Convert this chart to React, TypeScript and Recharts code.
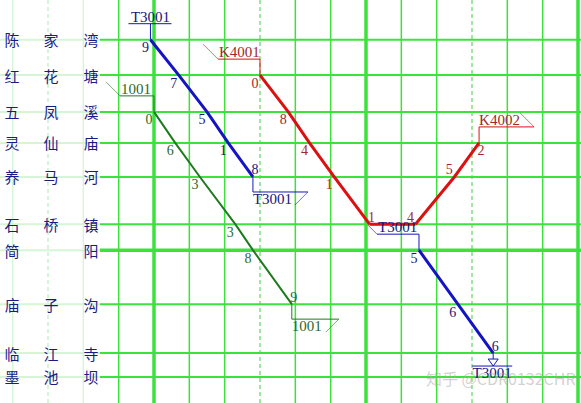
import { LineChart, Line, XAxis, YAxis, ReferenceLine, LabelList } from 'recharts';

// stations, top to bottom, with their mileage (km) on the diagram
const stations = ['陈家湾', '红花塘', '五凤溪', '灵仙庙', '养马河', '石桥镇', '简阳', '庙子沟', '临江寺', '墨池坝'];
const stationKm = [0, 10.5, 21.4, 30.6, 40.7, 54.7, 62.4, 78.4, 92.9, 100];

// 10-minute grid, minutes relative to the first hour line
const gridMinutes = [-40, -30, -20, -10, 0, 10, 20, 30, 40, 50, 60, 70, 80, 90, 100, 110, 120];

// train runs: station index + time (minutes)
const t3001aStops = [0, 1, 2, 3, 4];
const t3001aTimes = [-1, 7, 15, 21, 28];
const t3001bStops = [6, 7, 8];
const t3001bTimes = [75, 86, 96];
const t1001Stops = [2, 3, 4, 5, 6, 7];
const t1001Times = [0, 6, 13, 23, 28, 39];
const k4001Stops = [1, 2, 3, 4, 5];
const k4001Times = [30, 38, 44, 51, 61];
const k4002Stops = [5, 4, 3];
const k4002Times = [74, 85, 92];

const W = 581;
const H = 403;
const X_DOMAIN: [number, number] = [-43.585, 120.85];
const Y_DOMAIN: [number, number] = [-11.77, 107.71];
const LABEL_EDGE = -15.28; // where the station name column ends

const BLUE = '#1414c4';
const RED = '#dc1010';
const GREEN = '#1f7a1f';
const GRID = '#3ce23c';
const GRID_LIGHT = '#d6f5d6';
const NAME = '#1b1b88';
const SERIF = '"Liberation Serif", "DejaVu Serif", serif';

type MarkKind = 'origin' | 'enter' | 'exitDown' | 'exitUp' | 'terminate' | null;

interface Train {
  id: string;
  name: string;
  stops: number[];
  times: number[];
  dir: 'down' | 'up';
  color: string;
  digit: string;
  width: number;
  start: MarkKind;
  end: MarkKind;
  tail?: number;
}

const trains: Train[] = [
  { id: 'T3001a', name: 'T3001', stops: t3001aStops, times: t3001aTimes, dir: 'down', color: BLUE, digit: '#16167a', width: 3, start: 'origin', end: 'exitDown' },
  { id: 'T3001b', name: 'T3001', stops: t3001bStops, times: t3001bTimes, dir: 'down', color: BLUE, digit: '#16167a', width: 3, start: 'enter', end: 'terminate', tail: 9 },
  { id: '1001', name: '1001', stops: t1001Stops, times: t1001Times, dir: 'down', color: GREEN, digit: '#2a6a2a', width: 2, start: 'enter', end: 'exitDown', tail: 14 },
  { id: 'K4001', name: 'K4001', stops: k4001Stops, times: k4001Times, dir: 'down', color: RED, digit: '#a02828', width: 3, start: 'enter', end: null, tail: 15 },
  { id: 'K4002', name: 'K4002', stops: k4002Stops, times: k4002Times, dir: 'up', color: RED, digit: '#a02828', width: 3, start: null, end: 'exitUp' },
];

const rowsOf = (tr: Train) => tr.times.map((t, i) => ({ t, km: stationKm[tr.stops[i]] }));

// K4001 waits at 石桥镇 and leaves as K4002
const dwellRows = [
  { t: k4001Times[k4001Times.length - 1], km: stationKm[k4001Stops[k4001Stops.length - 1]] },
  { t: k4002Times[0], km: stationKm[k4002Stops[0]] },
];

function drawMark(tr: Train, kind: MarkKind, x: number, y: number) {
  if (!kind) return null;
  const c = tr.color;
  const txt = { fontFamily: SERIF, fontSize: 15, fill: tr.digit };
  const w = tr.name.length * 8 + 2;
  if (kind === 'origin') {
    const by = y - 16;
    return (
      <g>
        <line x1={x} y1={y} x2={x} y2={by} stroke={c} strokeWidth={1} />
        <line x1={x - 22} y1={by} x2={x + 21} y2={by} stroke={c} strokeWidth={1} />
        <text x={x} y={by - 2} textAnchor="middle" {...txt}>{tr.name}</text>
      </g>
    );
  }
  if (kind === 'enter') {
    const by = y - 16;
    const d = tr.tail ?? 14;
    return (
      <g>
        <line x1={x} y1={y} x2={x} y2={by} stroke={c} strokeWidth={1} />
        <line x1={x - w} y1={by} x2={x} y2={by} stroke={c} strokeWidth={1} />
        <line x1={x - w} y1={by} x2={x - w - d} y2={by - d} stroke={c} strokeOpacity={0.6} strokeWidth={1} />
        <text x={x - w + 1} y={by - 2} {...txt}>{tr.name}</text>
      </g>
    );
  }
  if (kind === 'exitDown') {
    const by = y + 15;
    const bw = w + 13;
    return (
      <g>
        <line x1={x} y1={y} x2={x} y2={by} stroke={c} strokeWidth={1} />
        <line x1={x} y1={by} x2={x + bw} y2={by} stroke={c} strokeWidth={1} />
        <line x1={x + bw} y1={by} x2={x + bw - 13} y2={by + 13} stroke={c} strokeOpacity={0.6} strokeWidth={1} />
        <text x={x} y={by + 12} {...txt}>{tr.name}</text>
      </g>
    );
  }
  if (kind === 'exitUp') {
    const by = y - 16;
    return (
      <g>
        <line x1={x} y1={y} x2={x} y2={by} stroke={c} strokeWidth={1} />
        <line x1={x} y1={by} x2={x + 55} y2={by} stroke={c} strokeWidth={1} />
        <line x1={x + 55} y1={by} x2={x + 41} y2={by - 14} stroke={c} strokeOpacity={0.6} strokeWidth={1} />
        <text x={x} y={by - 2} {...txt}>{tr.name}</text>
      </g>
    );
  }
  // terminate
  return (
    <g>
      <line x1={x} y1={y} x2={x} y2={y + 6} stroke={c} strokeWidth={1} />
      <polygon points={`${x - 5},${y + 6} ${x + 5},${y + 6} ${x},${y + 13}`} fill="#fff" stroke={c} strokeWidth={1} />
      <line x1={x - 21} y1={y + 13} x2={x + 19} y2={y + 13} stroke={c} strokeWidth={1} />
      <text x={x - 1} y={y + 25} textAnchor="middle" {...txt}>{tr.name}</text>
    </g>
  );
}

function StationName({ viewBox, name }: any) {
  const y = viewBox?.y ?? 0;
  const chars = name.split('');
  const cols = chars.length === 3 ? [12, 51, 91] : [12, 91];
  return (
    <g>
      {chars.map((ch: string, i: number) => (
        <text key={i} x={cols[i]} y={y} textAnchor="middle" dominantBaseline="central"
          fontFamily='"Noto Sans CJK SC", sans-serif' fontSize={15} fill={NAME}>
          {ch}
        </text>
      ))}
    </g>
  );
}

function digitLabel(tr: Train) {
  return (props: any) => {
    const { x, y, index } = props;
    if (x == null || y == null) return null;
    const last = index === tr.times.length - 1;
    const minute = ((tr.times[index] % 10) + 10) % 10;
    let dx = -5;
    let dy = 8;
    if (tr.dir === 'down' && last) { dx = 2; dy = -7; }
    if (tr.dir === 'up') { dy = last ? 8 : -7; dx = last ? 2 : -5; }
    return (
      <text x={x + dx} y={y + dy} textAnchor="middle" dominantBaseline="central"
        fontFamily={SERIF} fontSize={14} fill={tr.digit}>
        {minute}
      </text>
    );
  };
}

function markDot(tr: Train) {
  return (props: any) => {
    const { cx, cy, index } = props;
    const key = `${tr.id}-m${index}`;
    if (cx == null || cy == null) return <g key={key} />;
    if (index === 0) return <g key={key}>{drawMark(tr, tr.start, cx, cy)}</g>;
    if (index === tr.times.length - 1) return <g key={key}>{drawMark(tr, tr.end, cx, cy)}</g>;
    return <g key={key} />;
  };
}

export default function App() {
  return (
    <div style={{ position: 'absolute', left: 0, top: 0, width: W, height: H, background: '#fff', overflow: 'hidden' }}>
      <LineChart width={W} height={H} margin={{ top: 0, right: 0, bottom: 0, left: 0 }}>
        <XAxis type="number" dataKey="t" domain={X_DOMAIN} allowDataOverflow hide />
        <YAxis type="number" dataKey="km" domain={Y_DOMAIN} reversed allowDataOverflow hide />

        {gridMinutes.map((m) => {
          const inLabels = m < LABEL_EDGE;
          const hour = m % 60 === 0;
          const half = Math.abs(m % 60) === 30;
          return (
            <ReferenceLine
              key={`v${m}`}
              x={m}
              ifOverflow="visible"
              zIndex={-50}
              stroke={inLabels ? GRID_LIGHT : half ? '#9fe69f' : GRID}
              strokeWidth={hour ? 3.5 : half ? 2 : 1.5}
              strokeDasharray={half ? '4 3' : undefined}
            />
          );
        })}

        {stations.map((s, i) => (
          <ReferenceLine
            key={`hl${s}`}
            segment={[{ x: X_DOMAIN[0], y: stationKm[i] }, { x: LABEL_EDGE, y: stationKm[i] }]}
            ifOverflow="visible"
            zIndex={-50}
            stroke={GRID_LIGHT}
            strokeWidth={2}
            label={<StationName name={s} />}
          />
        ))}
        {stations.map((s, i) => (
          <ReferenceLine
            key={`h${s}`}
            segment={[{ x: LABEL_EDGE, y: stationKm[i] }, { x: X_DOMAIN[1], y: stationKm[i] }]}
            ifOverflow="visible"
            zIndex={-50}
            stroke={GRID}
            strokeWidth={s === '简阳' ? 3.5 : 2}
          />
        ))}

        <Line data={dwellRows} dataKey="km" stroke={RED} strokeWidth={3} dot={false} activeDot={false} isAnimationActive={false} zIndex={500} />
        {trains.map((tr) => (
          <Line
            key={tr.id}
            data={rowsOf(tr)}
            dataKey="km"
            stroke={tr.color}
            strokeWidth={tr.width}
            dot={markDot(tr)}
            activeDot={false}
            isAnimationActive={false}
            zIndex={500}
          >
            <LabelList dataKey="km" content={digitLabel(tr)} />
          </Line>
        ))}
      </LineChart>
      <div style={{
        position: 'absolute', left: 426, top: 366, fontSize: 16, color: 'rgba(170,170,170,0.55)',
        fontFamily: '"Noto Sans CJK SC", sans-serif', whiteSpace: 'nowrap', pointerEvents: 'none',
      }}>
        知乎 @CDR0132CHR
      </div>
    </div>
  );
}
